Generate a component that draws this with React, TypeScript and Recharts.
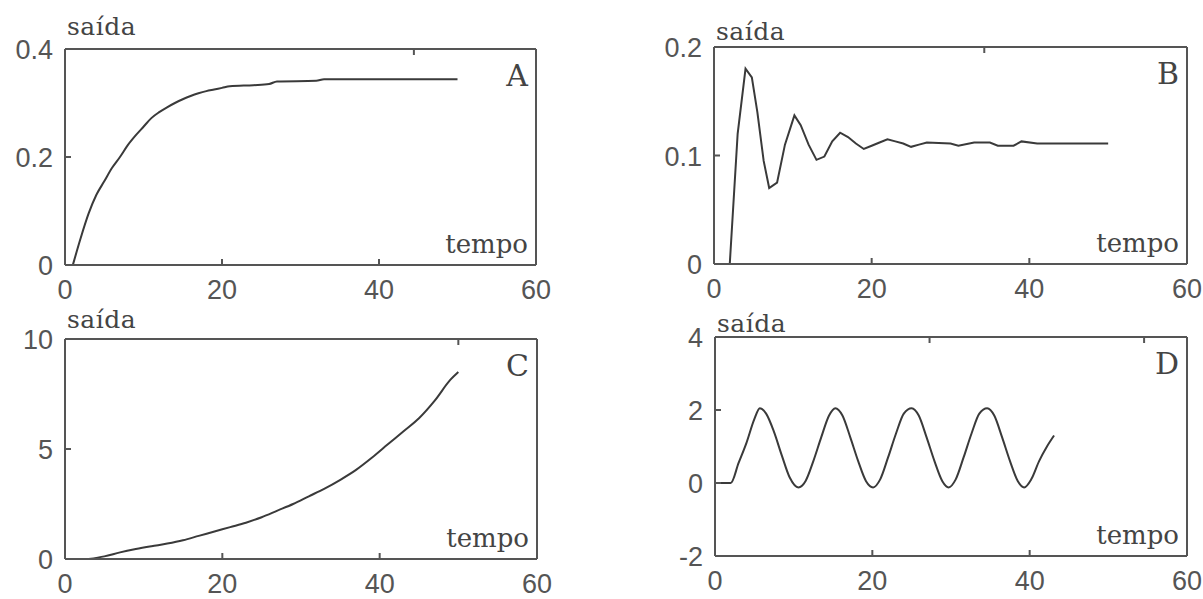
import { Line, LineChart, XAxis, YAxis } from 'recharts'

// step responses, time axis in seconds
const tA = [1, 2, 3, 4, 5, 6, 7, 8, 9, 10, 11, 12, 13, 14, 15, 16, 17, 18, 19, 20, 21, 24, 26, 27, 32, 33, 40, 50]
const vA = [0, 0.05, 0.095, 0.13, 0.155, 0.18, 0.2, 0.222, 0.24, 0.256, 0.272, 0.283, 0.292, 0.3, 0.307, 0.313, 0.318, 0.322, 0.325, 0.328, 0.331, 0.333, 0.335, 0.34, 0.341, 0.344, 0.344, 0.344]

const tB = [2, 3, 4, 4.8, 5.5, 6.3, 7, 8, 9, 10.2, 11, 12, 13, 14, 15, 16, 17, 18, 19, 20, 21, 22, 23, 24, 25, 26, 27, 30, 31, 33, 35, 36, 38, 39, 41, 50]
const vB = [0, 0.12, 0.18, 0.172, 0.14, 0.095, 0.07, 0.075, 0.11, 0.137, 0.128, 0.11, 0.096, 0.099, 0.113, 0.121, 0.117, 0.111, 0.106, 0.109, 0.112, 0.115, 0.113, 0.111, 0.108, 0.11, 0.112, 0.111, 0.109, 0.112, 0.112, 0.109, 0.109, 0.113, 0.111, 0.111]

const tC = [3, 5, 7, 9, 11, 13, 15, 17, 19, 21, 23, 25, 27, 29, 31, 33, 35, 37, 39, 41, 43, 45, 47, 49, 50]
const vC = [0, 0.12, 0.3, 0.45, 0.58, 0.7, 0.85, 1.05, 1.25, 1.45, 1.65, 1.9, 2.2, 2.5, 2.85, 3.2, 3.6, 4.05, 4.6, 5.2, 5.8, 6.4, 7.2, 8.15, 8.5]

const tD = [0, 2, 3, 4, 5, 5.7, 6.5, 7.5, 8.5, 9.5, 10.6, 11.5, 12.5, 13.5, 14.5, 15.3, 16.2, 17.2, 18.2, 19.2, 20.1, 21, 22, 23, 24, 25, 25.9, 26.9, 27.9, 28.9, 29.7, 30.6, 31.6, 32.6, 33.6, 34.6, 35.5, 36.5, 37.5, 38.5, 39.3, 40.2, 41.2, 42.2, 43.1]
const vD = [0, 0, 0.55, 1.1, 1.75, 2.05, 1.9, 1.4, 0.75, 0.15, -0.12, 0.05, 0.6, 1.25, 1.85, 2.05, 1.85, 1.25, 0.6, 0.05, -0.12, 0.1, 0.7, 1.35, 1.9, 2.05, 1.85, 1.25, 0.6, 0.05, -0.12, 0.1, 0.7, 1.35, 1.9, 2.05, 1.85, 1.25, 0.6, 0.05, -0.12, 0.1, 0.6, 1.0, 1.3]

const xTicks = [0, 20, 40, 60]
const yTicksA = [0, 0.2, 0.4]
const yTicksB = [0, 0.1, 0.2]
const yTicksC = [0, 5, 10]
const yTicksD = [-2, 0, 2, 4]

const zip = (t: number[], v: number[]) => t.map((x, i) => ({ t: x, v: v[i] }))

const numFont = "'Liberation Sans', Arial, sans-serif"
const serif = "'DejaVu Serif', serif"
const frame = '#555'
const ink = '#3a3a3a'
const extra = 24 // room below the x labels

interface PanelProps {
  left: number
  top: number
  w: number
  h: number
  box: [number, number, number, number] // left, top, right, bottom (local)
  data: { t: number; v: number }[]
  yDomain: [number, number]
  yTicks: number[]
  letter: string
  curve: 'monotone' | 'linear'
  saidaDy: number
}

function Panel({ left, top, w, h, box, data, yDomain, yTicks, letter, curve, saidaDy }: PanelProps) {
  const [bl, bt, br, bb] = box
  const H = h + extra
  const yInner = (v: number) => v > yDomain[0] && v < yDomain[1]

  return (
    <div style={{ position: 'absolute', left, top, width: w, height: H }}>
      <LineChart width={w} height={H} data={data} margin={{ top: bt - 1, right: w - br - 1, bottom: 0, left: 0 }}>
        <XAxis
          xAxisId="b"
          dataKey="t"
          type="number"
          domain={[0, 60]}
          ticks={xTicks}
          interval={0}
          height={H - bb}
          axisLine={{ stroke: frame, strokeWidth: 2 }}
          tickLine={false}
          tickSize={0}
          tickMargin={0}
          tick={(p: any) => (
            <g>
              {p.payload.value > 0 && p.payload.value < 60 && (
                <line x1={p.x} y1={p.y} x2={p.x} y2={p.y - 6} stroke={frame} strokeWidth={2} />
              )}
              <text x={p.x} y={p.y + 34} textAnchor="middle" fontFamily={numFont} fontSize={27} fill="#555">
                {p.payload.value}
              </text>
            </g>
          )}
        />
        <XAxis
          xAxisId="t"
          orientation="top"
          type="number"
          domain={[0, 60]}
          ticks={xTicks}
          interval={0}
          height={1}
          axisLine={{ stroke: frame, strokeWidth: 2 }}
          tickLine={false}
          tickSize={0}
          tickMargin={0}
          tick={(p: any) =>
            p.payload.value > 0 && p.payload.value < 60 ? (
              <line x1={p.x} y1={p.y} x2={p.x} y2={p.y + 6} stroke={frame} strokeWidth={2} />
            ) : (
              <g />
            )
          }
        />
        <YAxis
          yAxisId="l"
          type="number"
          domain={yDomain}
          ticks={yTicks}
          interval={0}
          width={bl}
          axisLine={{ stroke: frame, strokeWidth: 2 }}
          tickLine={false}
          tickSize={0}
          tickMargin={0}
          tick={(p: any) => (
            <g>
              {yInner(p.payload.value) && (
                <line x1={p.x} y1={p.y} x2={p.x + 6} y2={p.y} stroke={frame} strokeWidth={2} />
              )}
              <text x={p.x - 12} y={p.y + 10} textAnchor="end" fontFamily={numFont} fontSize={27} fill="#555">
                {p.payload.value}
              </text>
            </g>
          )}
        />
        <YAxis
          yAxisId="r"
          orientation="right"
          type="number"
          domain={yDomain}
          ticks={yTicks}
          interval={0}
          width={1}
          axisLine={{ stroke: frame, strokeWidth: 2 }}
          tickLine={false}
          tickSize={0}
          tickMargin={0}
          tick={(p: any) =>
            yInner(p.payload.value) ? (
              <line x1={p.x} y1={p.y} x2={p.x - 6} y2={p.y} stroke={frame} strokeWidth={2} />
            ) : (
              <g />
            )
          }
        />
        <Line
          xAxisId="b"
          yAxisId="l"
          dataKey="v"
          type={curve}
          stroke={ink}
          strokeWidth={2}
          dot={false}
          isAnimationActive={false}
        />
      </LineChart>
      <svg width={w} height={H} style={{ position: 'absolute', left: 0, top: 0, pointerEvents: 'none' }}>
        <text x={bl + 2} y={bt - saidaDy} fontFamily={serif} fontSize={25} fill="#444" letterSpacing={0.5}>
          saída
        </text>
        <text x={br - 8} y={bt + 37} textAnchor="end" fontFamily={serif} fontSize={30} fill="#444">
          {letter}
        </text>
        <text x={br - 8} y={bb - 12} textAnchor="end" fontFamily={serif} fontSize={26} fill="#444">
          tempo
        </text>
      </svg>
    </div>
  )
}

export default function App() {
  return (
    <div style={{ position: 'absolute', left: 0, top: 0, width: 1203, height: 599, background: '#fff', overflow: 'hidden' }}>
      <Panel left={0} top={0} w={600} h={300} box={[65, 49, 536, 265]} data={zip(tA, vA)} yDomain={[0, 0.4]} yTicks={yTicksA} letter="A" curve="monotone" saidaDy={14} />
      <Panel left={600} top={0} w={603} h={300} box={[114, 47, 587, 264]} data={zip(tB, vB)} yDomain={[0, 0.2]} yTicks={yTicksB} letter="B" curve="linear" saidaDy={7} />
      <Panel left={0} top={300} w={600} h={299} box={[65, 39, 537, 259]} data={zip(tC, vC)} yDomain={[0, 10]} yTicks={yTicksC} letter="C" curve="monotone" saidaDy={11} />
      <Panel left={600} top={300} w={603} h={299} box={[115, 37, 587, 256]} data={zip(tD, vD)} yDomain={[-2, 4]} yTicks={yTicksD} letter="D" curve="monotone" saidaDy={5} />
    </div>
  )
}
